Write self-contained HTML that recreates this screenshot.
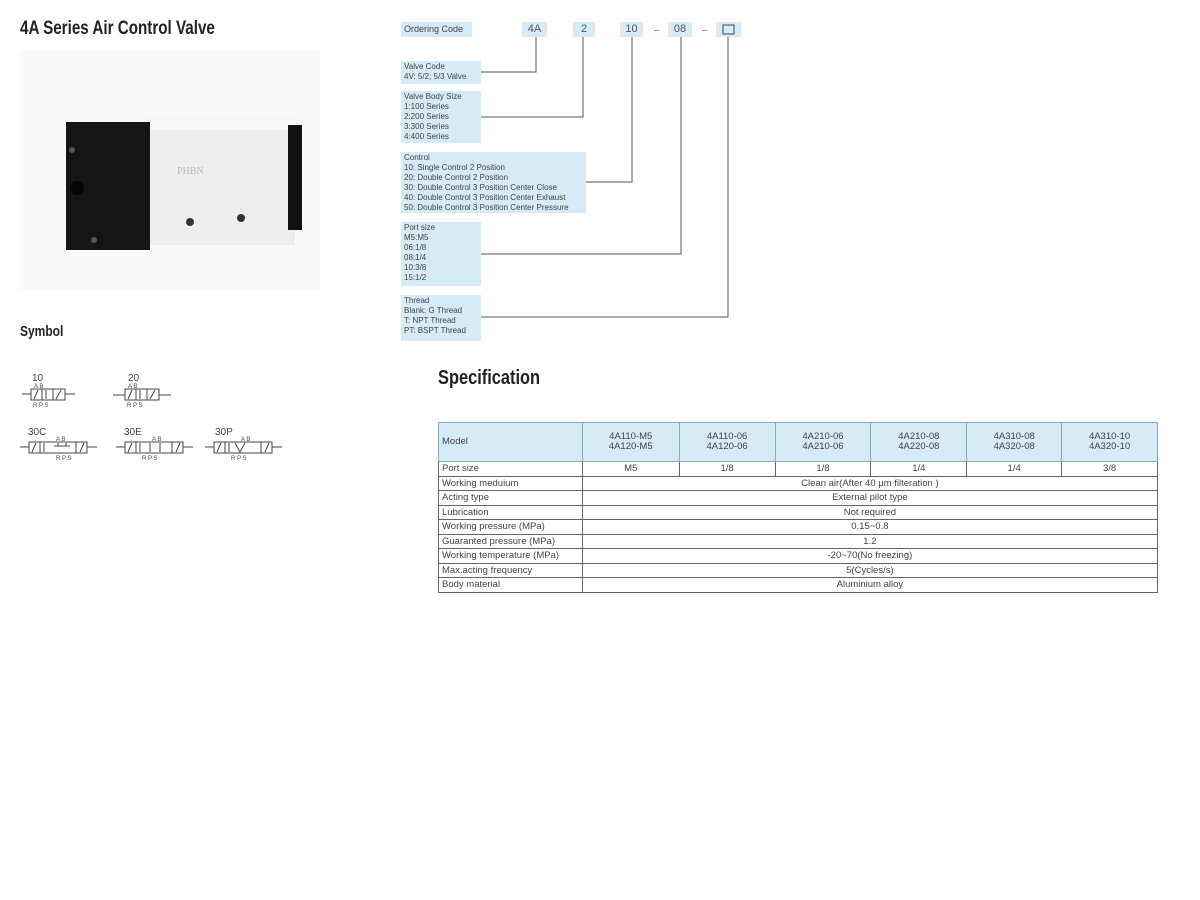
<!DOCTYPE html>
<html><head><meta charset="utf-8"><style>
body{margin:0;width:1200px;height:900px;background:#fff;position:relative;overflow:hidden;font-family:"Liberation Sans",sans-serif;color:#333}
.a{position:absolute}
.h{font-weight:bold;color:#222;font-family:"Liberation Sans Narrow","Liberation Sans",sans-serif;transform-origin:left top}
.bx{position:absolute;background:#d5ebf7;font-size:8px;line-height:10px;padding:1px 3px;box-sizing:border-box;color:#444}
.cb{position:absolute;background:#d5ebf7;font-size:11px;text-align:center;line-height:15px;color:#555;height:15px;top:22px}
table{position:absolute;left:438px;top:422px;width:720px;border-collapse:collapse;font-size:9.5px;color:#444}
td{border:1px solid #666;padding:0 3px;height:13.5px;line-height:13px;text-align:center}
td:first-child{text-align:left}
tr.hd td{background:#d5ebf7;height:38px;line-height:10px;border-color:#8ab}
</style></head><body>
<div class="a h" style="left:20px;top:18px;font-size:19px;transform:scaleX(.8)">4A Series Air Control Valve</div>
<div class="a h" style="left:20px;top:323px;font-size:15px;transform:scaleX(.8)">Symbol</div>
<div class="a h" style="left:438px;top:367px;font-size:20px;transform:scaleX(.82)">Specification</div>

<svg class="a" style="left:0;top:0" width="1200" height="900">
<rect x="20" y="50" width="300" height="240" fill="#fafafa"/>
<rect x="145" y="118" width="150" height="127" fill="#eceef0"/>
<rect x="145" y="118" width="150" height="12" fill="#f7f7f7"/>
<rect x="288" y="125" width="14" height="105" fill="#111"/>
<rect x="66" y="122" width="84" height="128" fill="#151515"/>
<circle cx="72" cy="150" r="3" fill="#555"/><circle cx="94" cy="240" r="3" fill="#555"/>
<circle cx="77" cy="188" r="7" fill="#050505"/>
<circle cx="190" cy="222" r="4" fill="#333"/><circle cx="241" cy="218" r="4" fill="#333"/>
<text x="177" y="174" font-size="10" fill="#bbb" font-family="Liberation Serif">PHBN</text>
<g fill="none" stroke="#555" stroke-width="1">
<polyline points="481,72 536,72 536,37"/>
<polyline points="481,117 583,117 583,37"/>
<polyline points="586,182 632,182 632,37"/>
<polyline points="481,254 681,254 681,37"/>
<polyline points="481,317 728,317 728,37"/>
<rect x="723" y="25" width="11" height="9" stroke="#445"/>
</g>
<text x="654" y="33" font-size="10" fill="#777">–</text>
<text x="702" y="33" font-size="10" fill="#777">–</text>
<g font-size="10" fill="#444">
<text x="32" y="381">10</text><text x="128" y="381">20</text>
<text x="28" y="435">30C</text><text x="124" y="435">30E</text><text x="215" y="435">30P</text>
</g>
<g fill="none" stroke="#444" stroke-width="1">
<rect x="31" y="389" width="34" height="11"/><line x1="42" y1="389" x2="42" y2="400"/><line x1="53" y1="389" x2="53" y2="400"/><path d="M22 394h9M65 394h10M34 399l4-9M46 390v9M56 399l5-9"/>
<rect x="125" y="389" width="34" height="11"/><line x1="136" y1="389" x2="136" y2="400"/><line x1="147" y1="389" x2="147" y2="400"/><path d="M113 395h12M159 395h12M128 399l4-9M140 390v9M150 399l5-9"/>
<rect x="29" y="442" width="58" height="11"/><path d="M40 442v11M76 442v11M20 447h9M87 447h10M32 452l4-9M44 443v9M58 443v3M54 446h8M66 443v3M62 446h8M80 452l4-9"/>
<rect x="125" y="442" width="58" height="11"/><path d="M136 442v11M172 442v11M116 447h9M183 447h10M128 452l4-9M140 443v9M176 452l4-9M150 443v9M160 443v9"/>
<rect x="214" y="442" width="58" height="11"/><path d="M225 442v11M261 442v11M205 447h9M272 447h10M217 452l4-9M229 443v9M235 443l5 9 5-9M265 452l4-9"/>
</g>
<g font-size="6" fill="#444"><text x="34" y="388">A B</text><text x="33" y="407">R P S</text><text x="128" y="388">A B</text><text x="127" y="407">R P S</text>
<text x="56" y="441">A  B</text><text x="56" y="460">R P S</text><text x="152" y="441">A  B</text><text x="142" y="460">R P S</text><text x="241" y="441">A  B</text><text x="231" y="460">R P S</text></g>
</svg>

<div class="bx" style="left:401px;top:22px;width:71px;height:15px;font-size:9px;line-height:13px">Ordering Code</div>
<div class="cb" style="left:522px;width:25px">4A</div>
<div class="cb" style="left:573px;width:22px">2</div>
<div class="cb" style="left:620px;width:23px">10</div>
<div class="cb" style="left:668px;width:24px">08</div>
<div class="cb" style="left:716px;width:25px;background:#d5ebf7;z-index:-1"></div>
<div class="bx" style="left:401px;top:61px;width:80px;height:23px">Valve Code<br>4V: 5/2, 5/3 Valve</div>
<div class="bx" style="left:401px;top:91px;width:80px;height:52px">Valve Body Size<br>1:100 Series<br>2:200 Series<br>3:300 Series<br>4:400 Series</div>
<div class="bx" style="left:401px;top:152px;width:185px;height:61px">Control<br>10: Single Control 2 Position<br>20: Double Control 2 Position<br>30: Double Control 3 Position Center Close<br>40: Double Control 3 Position Center Exhaust<br>50: Double Control 3 Position Center Pressure</div>
<div class="bx" style="left:401px;top:222px;width:80px;height:64px">Port size<br>M5:M5<br>06:1/8<br>08:1/4<br>10:3/8<br>15:1/2</div>
<div class="bx" style="left:401px;top:295px;width:80px;height:46px">Thread<br>Blank: G Thread<br>T: NPT Thread<br>PT: BSPT Thread</div>

<table>
<colgroup><col style="width:144px"><col style="width:97px"><col style="width:96px"><col style="width:96px"><col style="width:96px"><col style="width:95px"><col style="width:96px"></colgroup>
<tr class="hd"><td>Model</td><td>4A110-M5<br>4A120-M5</td><td>4A110-06<br>4A120-06</td><td>4A210-06<br>4A210-06</td><td>4A210-08<br>4A220-08</td><td>4A310-08<br>4A320-08</td><td>4A310-10<br>4A320-10</td></tr>
<tr><td>Port size</td><td>M5</td><td>1/8</td><td>1/8</td><td>1/4</td><td>1/4</td><td>3/8</td></tr>
<tr><td>Working meduium</td><td colspan="6">Clean air(After 40 μm filteration )</td></tr>
<tr><td>Acting type</td><td colspan="6">External pilot type</td></tr>
<tr><td>Lubrication</td><td colspan="6">Not required</td></tr>
<tr><td>Working pressure (MPa)</td><td colspan="6">0.15~0.8</td></tr>
<tr><td>Guaranted pressure (MPa)</td><td colspan="6">1.2</td></tr>
<tr><td>Working temperature (MPa)</td><td colspan="6">-20~70(No freezing)</td></tr>
<tr><td>Max.acting frequency</td><td colspan="6">5(Cycles/s)</td></tr>
<tr><td>Body material</td><td colspan="6">Aluminium alloy</td></tr>
</table>
</body></html>
